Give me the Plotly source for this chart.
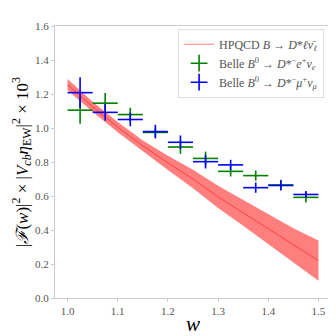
import plotly.graph_objects as go

# HPQCD band
w_band = [1.00, 1.05, 1.10, 1.15, 1.20, 1.25, 1.30, 1.35, 1.40, 1.45, 1.50]
f_band = [1.255, 1.125, 1.005, 0.895, 0.795, 0.70, 0.595, 0.50, 0.405, 0.31, 0.22]
f_err = [0.033, 0.030, 0.030, 0.032, 0.042, 0.055, 0.065, 0.075, 0.087, 0.10, 0.118]

# Belle data
w_bin = [1.025, 1.075, 1.125, 1.175, 1.225, 1.275, 1.325, 1.375, 1.425, 1.475]
w_halfwidth = [0.025] * 10
e_val = [1.105, 1.146, 1.079, 0.974, 0.888, 0.821, 0.745, 0.720, 0.665, 0.592]
e_err = [0.08, 0.06, 0.04, 0.03, 0.04, 0.04, 0.03, 0.03, 0.03, 0.03]
mu_val = [1.208, 1.092, 1.050, 0.979, 0.916, 0.802, 0.783, 0.649, 0.662, 0.609]
mu_err = [0.09, 0.05, 0.04, 0.04, 0.04, 0.04, 0.03, 0.03, 0.03, 0.02]

lbl_hpqcd = "HPQCD <i>B</i> → <i>D</i>*<i>ℓν̄</i><sub><i>ℓ</i></sub>"
lbl_e = "Belle <i>B</i><sup>0</sup> → <i>D</i>*<sup>−</sup><i>e</i><sup>+</sup><i>ν</i><sub><i>e</i></sub>"
lbl_mu = "Belle <i>B</i><sup>0</sup> → <i>D</i>*<sup>−</sup><i>μ</i><sup>+</sup><i>ν</i><sub><i>μ</i></sub>"

lower = [f - e for f, e in zip(f_band, f_err)]
upper = [f + e for f, e in zip(f_band, f_err)]

fig = go.Figure()

# band
fig.add_trace(go.Scatter(x=w_band, y=lower, mode='lines', line=dict(width=0, color='rgba(255,0,0,0)'),
                         showlegend=False, hoverinfo='skip'))
fig.add_trace(go.Scatter(x=w_band, y=upper, mode='lines', line=dict(width=0, color='rgba(255,0,0,0)'),
                         fill='tonexty', fillcolor='rgba(255,0,0,0.5)', showlegend=False, hoverinfo='skip'))
fig.add_trace(go.Scatter(x=w_band, y=f_band, mode='lines', line=dict(color='rgba(255,0,0,0.5)', width=1),
                         name=lbl_hpqcd))

# data with error bars
def add_data(vals, errs, color, name):
    fig.add_trace(go.Scatter(x=w_bin, y=vals, mode='markers',
                             marker=dict(size=0.1, color=color),
                             error_x=dict(type='data', array=w_halfwidth, width=0, thickness=1.6, color=color),
                             error_y=dict(type='data', array=errs, width=0, thickness=1.6, color=color),
                             showlegend=False))
    # legend entry
    fig.add_trace(go.Scatter(x=[None], y=[None], mode='markers', name=name,
                             marker=dict(symbol='cross-thin', size=12, color=color,
                                         line=dict(color=color, width=1.6))))

add_data(e_val, e_err, 'green', lbl_e)
add_data(mu_val, mu_err, 'blue', lbl_mu)

fig.update_layout(
    width=336, height=336,
    margin=dict(l=47, r=13, t=16, b=41),
    paper_bgcolor='white', plot_bgcolor='white',
    font=dict(family='Liberation Serif', size=11, color='#555'),
    legend=dict(x=0.975, y=0.99, xanchor='right', yanchor='top', traceorder='normal',
                bgcolor='rgba(255,255,255,0.8)', bordercolor='#ddd', borderwidth=1,
                font=dict(size=12, color='#555'), tracegroupgap=0, itemwidth=30),
)
fig.update_xaxes(range=[0.975, 1.525], tickvals=[1.0, 1.1, 1.2, 1.3, 1.4, 1.5],
                 ticktext=['1.0', '1.1', '1.2', '1.3', '1.4', '1.5'],
                 showgrid=False, zeroline=False, showline=True, mirror=True, linecolor='#ccc',
                 ticks='outside', ticklen=3, tickcolor='#ccc',
                 title=dict(text='<i>w</i>', font=dict(size=21, color='black'), standoff=0))
fig.update_yaxes(range=[0, 1.6], tickvals=[0, 0.2, 0.4, 0.6, 0.8, 1.0, 1.2, 1.4, 1.6],
                 ticktext=['0.0', '0.2', '0.4', '0.6', '0.8', '1.0', '1.2', '1.4', '1.6'],
                 showgrid=False, zeroline=False, showline=True, mirror=True, linecolor='#ccc',
                 ticks='outside', ticklen=3, tickcolor='#ccc',
                 title=dict(text='|<i>ℱ</i>(<i>w</i>)|<sup>2</sup> × |<i>V</i><sub><i>cb</i></sub><i>η</i><sub>EW</sub>|<sup>2</sup> × 10<sup>3</sup>',
                            font=dict(size=17, color='black'), standoff=2))

fig.write_html("out.html")
